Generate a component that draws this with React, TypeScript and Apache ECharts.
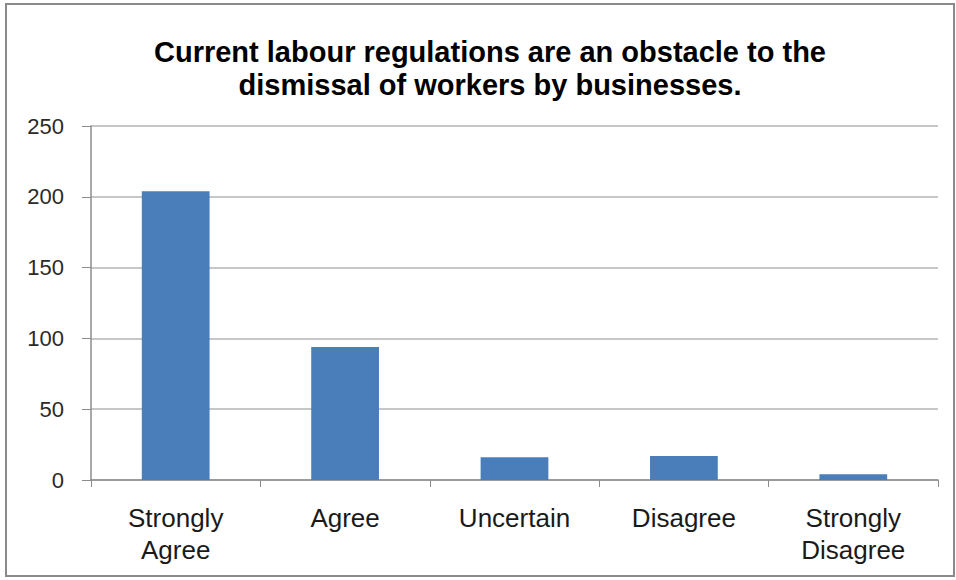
import React, { useEffect, useRef } from "react";
import * as echarts from "echarts";

const titleText = "Current labour regulations are an obstacle to the\ndismissal of workers by businesses.";
const categories = ["Strongly\nAgree", "Agree", "Uncertain", "Disagree", "Strongly\nDisagree"];
const values = [204, 94, 16, 17, 4];
const yMin = 0;
const yMax = 250;
const yInterval = 50;

export default function App() {
  const ref = useRef<HTMLDivElement>(null);
  useEffect(() => {
    if (!ref.current) return;
    const chart = echarts.init(ref.current, undefined, { renderer: "svg" });
    chart.setOption({
      animation: false,
      backgroundColor: "#ffffff",
      title: {
        text: titleText,
        left: 485,
        top: 30,
        textAlign: "center",
        textStyle: {
          fontFamily: "Liberation Sans, Arial, sans-serif",
          fontSize: 29,
          fontWeight: "bold",
          color: "#000000",
          lineHeight: 33,
        },
      },
      graphic: [
        {
          type: "rect",
          shape: { x: 6, y: 4, width: 948, height: 572 },
          style: { fill: "none", stroke: "#8a8a8a", lineWidth: 2 },
          silent: true,
        },
      ],
      grid: { left: 91, right: 18, top: 126, bottom: 100, containLabel: false },
      xAxis: {
        type: "category",
        data: categories,
        axisLine: { show: true, lineStyle: { color: "#8c8c8c", width: 1.5 } },
        axisTick: { show: true, length: 7, lineStyle: { color: "#8c8c8c" } },
        axisLabel: {
          margin: 22,
          fontFamily: "Liberation Sans, Arial, sans-serif",
          fontSize: 26,
          lineHeight: 32,
          color: "#1a1a1a",
        },
        splitLine: { show: false },
      },
      yAxis: {
        type: "value",
        min: yMin,
        max: yMax,
        interval: yInterval,
        axisLine: { show: true, lineStyle: { color: "#8c8c8c", width: 1.5 } },
        axisTick: { show: true, inside: false, length: 9, lineStyle: { color: "#8c8c8c" } },
        axisLabel: {
          margin: 27,
          fontFamily: "Liberation Sans, Arial, sans-serif",
          fontSize: 22,
          color: "#2a2a2a",
        },
        splitLine: { show: true, lineStyle: { color: "#b4b4b4", width: 1.5 } },
      },
      series: [
        {
          type: "bar",
          data: values,
          barWidth: "40%",
          itemStyle: { color: "#4a7ebb" },
        },
      ],
    });
    return () => chart.dispose();
  }, []);
  return (
    <div style={{ position: "fixed", left: 0, top: 0, width: 956, height: 580, background: "#fff" }}>
      <div ref={ref} style={{ width: 956, height: 580 }} />
    </div>
  );
}
